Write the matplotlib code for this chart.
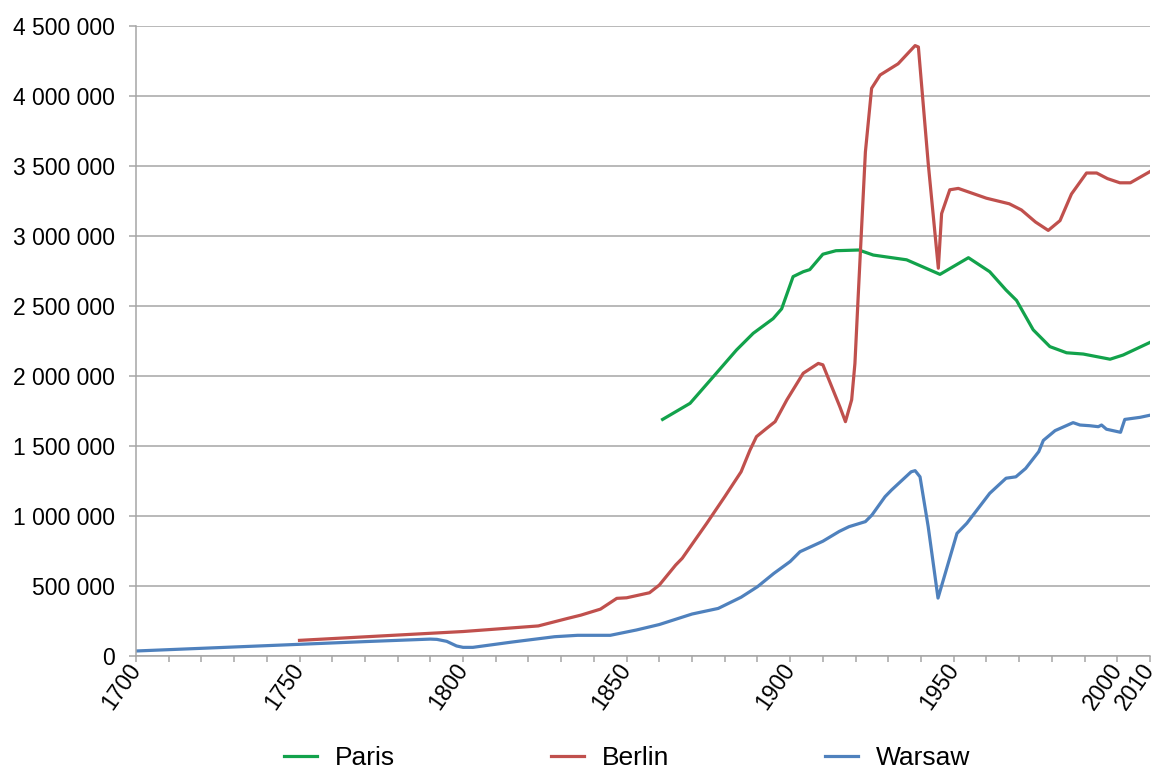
import numpy as np
import matplotlib.pyplot as plt
from matplotlib.ticker import FuncFormatter, MultipleLocator

plt.rcParams['font.family'] = ['Liberation Sans', 'DejaVu Sans']

# Paris
paris_years = [1861, 1869.4, 1876.5, 1883.6, 1888.7, 1894.8, 1897.4, 1900.9, 1904, 1906,
               1910, 1914, 1921, 1925.4, 1935.6, 1945.8, 1954.5, 1961, 1966, 1969.2,
               1974.3, 1979.4, 1984.5, 1989.6, 1997.8, 2001.8, 2010]
paris_pop = [1690000, 1805000, 1995000, 2186000, 2305000, 2410000, 2480000, 2710000, 2745000, 2760000,
             2870000, 2895000, 2900000, 2864000, 2830000, 2726000, 2845000, 2745000, 2614000, 2540000,
             2330000, 2210000, 2166000, 2157000, 2120000, 2150000, 2240000]

# Berlin
berlin_years = [1750, 1800, 1823, 1832, 1836, 1842, 1847, 1850, 1857, 1860,
                1865, 1867, 1874.5, 1880, 1885, 1887.7, 1889.7, 1892.8, 1895.4, 1899,
                1904, 1908.6, 1910, 1915.2, 1916.9, 1918.8, 1919.8, 1920.8, 1921.8, 1923,
                1924.9, 1927.5, 1933, 1938.2, 1939.2, 1942.2, 1945.3, 1946.3, 1948.8, 1951.4,
                1960, 1967, 1970.7, 1975, 1978.9, 1982.5, 1986, 1990.6, 1993.7, 1997,
                2000.8, 2004, 2010]
berlin_pop = [112000, 175000, 215000, 269000, 292000, 335000, 412000, 416000, 452000, 507000,
              650000, 698000, 948000, 1138000, 1316000, 1470000, 1567000, 1626000, 1674000, 1830000,
              2020000, 2090000, 2080000, 1780000, 1674000, 1830000, 2090000, 2570000, 3040000, 3600000,
              4055000, 4150000, 4230000, 4360000, 4350000, 3520000, 2770000, 3160000, 3330000, 3340000,
              3270000, 3230000, 3186000, 3100000, 3040000, 3110000, 3300000, 3450000, 3450000, 3410000,
              3380000, 3380000, 3460000]

# Warsaw
warsaw_years = [1700, 1744, 1770, 1790, 1792, 1795, 1798, 1800, 1803, 1815,
                1828, 1835, 1845, 1853, 1860, 1870, 1878, 1885, 1890, 1895,
                1900, 1903, 1910, 1915, 1918, 1923, 1925, 1929, 1931, 1937,
                1938.2, 1939.7, 1942.2, 1945.2, 1951, 1954, 1961, 1966, 1969, 1972,
                1976, 1977.4, 1981, 1986.5, 1988.6, 1991.6, 1994.2, 1995.2, 1996.7, 2001,
                2002.3, 2007, 2010]
warsaw_pop = [36000, 78000, 103000, 121000, 119000, 105000, 72000, 62000, 62000, 100000,
              138000, 148000, 148000, 186000, 225000, 300000, 340000, 420000, 495000, 590000,
              675000, 745000, 820000, 890000, 924000, 960000, 1007000, 1138000, 1186000, 1316000,
              1324000, 1280000, 924000, 414000, 876000, 948000, 1162000, 1270000, 1280000, 1340000,
              1460000, 1540000, 1610000, 1667000, 1650000, 1645000, 1638000, 1650000, 1620000, 1598000,
              1690000, 1705000, 1720000]

x_ticks = [1700, 1750, 1800, 1850, 1900, 1950, 2000, 2010]

fig = plt.figure(figsize=(11.65, 7.69), dpi=100)
ax = fig.add_axes([0.1167, 0.1469, 0.8704, 0.8193])

ax.plot(paris_years, paris_pop, color='#12A24B', lw=2.3, label='Paris', solid_joinstyle='round')
ax.plot(berlin_years, berlin_pop, color='#C0504D', lw=2.3, label='Berlin', solid_joinstyle='round')
ax.plot(warsaw_years, warsaw_pop, color='#4F81BD', lw=2.3, label='Warsaw', solid_joinstyle='round')

ax.set_xlim(1700, 2010)
ax.set_ylim(0, 4500000)
ax.yaxis.set_major_locator(MultipleLocator(500000))
ax.yaxis.set_major_formatter(FuncFormatter(lambda v, p: f'{int(v):,}'.replace(',', ' ')))
ax.set_xticks(x_ticks)
ax.xaxis.set_minor_locator(MultipleLocator(10))

ax.grid(axis='y', color='#A6A6A6', lw=1.1)
ax.set_axisbelow(True)
for s in ['top', 'right']:
    ax.spines[s].set_visible(False)
for s in ['left', 'bottom']:
    ax.spines[s].set_color('#A6A6A6')
    ax.spines[s].set_linewidth(1.1)

ax.tick_params(axis='y', length=5, color='#A6A6A6', width=1.1, pad=10, labelsize=16.5)
ax.tick_params(axis='x', which='both', length=4, color='#A6A6A6', width=1.1, labelsize=16.5, pad=3)
for lab in ax.get_xticklabels():
    lab.set_rotation(55)
    lab.set_ha('right')
    lab.set_va('center')
    lab.set_rotation_mode('anchor')

fig.legend(loc='center', bbox_to_anchor=(0.5386, 0.0143), ncol=3, frameon=False,
           fontsize=19, handlelength=1.25, handletextpad=0.68, columnspacing=5.9)

fig.savefig('out.png', dpi=100)
